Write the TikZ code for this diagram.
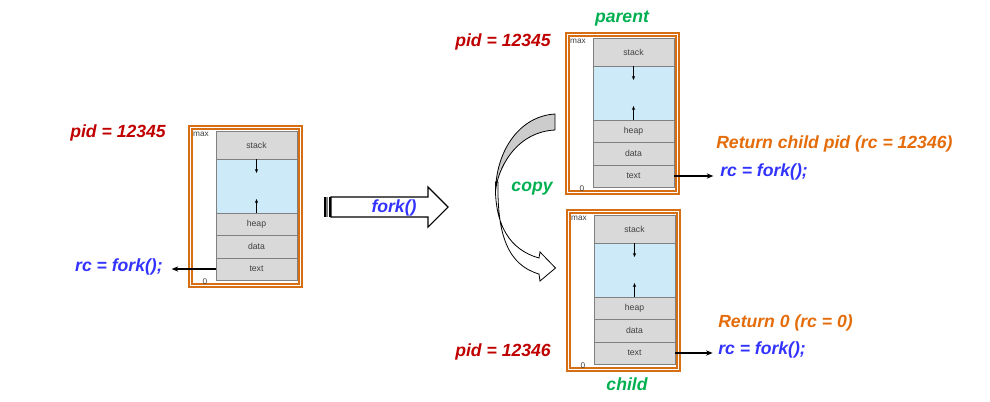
\documentclass[tikz,border=0pt]{standalone}
\usepackage{fontspec}
\setmainfont{Liberation Sans}
\usetikzlibrary{arrows.meta}
\definecolor{pidred}{RGB}{192,0,0}
\definecolor{rcblue}{RGB}{51,51,255}
\definecolor{cpgreen}{RGB}{0,176,80}
\definecolor{retorange}{RGB}{228,108,10}
\definecolor{frameor}{RGB}{214,110,20}
\definecolor{seggray}{RGB}{217,217,217}
\definecolor{segblue}{RGB}{204,234,248}
\begin{document}
\begin{tikzpicture}[x=0.75pt,y=-0.75pt,
  big/.style={font=\fontsize{13.2}{15}\selectfont\bfseries\itshape, inner sep=0pt},
  pidlbl/.style={big, text=pidred},
  rclbl/.style={big, text=rcblue},
  grlbl/.style={big, text=cpgreen},
  retlbl/.style={big, text=retorange},
  frame/.style={draw=frameor, line width=1.1pt},
  seg/.style={draw=gray, fill=seggray, line width=0.5pt, minimum width=60.75pt,
    inner sep=0pt, outer sep=0pt, anchor=north west,
    font=\fontsize{6.5}{7}\selectfont, text=black!75},
  tinylbl/.style={font=\fontsize{6.2}{7}\selectfont, text=black!75, inner sep=0pt},
  smallarrow/.style={-{Stealth[length=3pt,width=2.4pt]}, line width=0.5pt},
  link/.style={-{Stealth[length=5pt,width=4pt]}, line width=0.8pt},
  memblock/.pic={
    \draw[frame] (0,0) rectangle (113,161);
    \draw[frame] (3,3) rectangle (110,158);
    \node[seg, minimum height=21pt] (-stack) at (27,5) {stack};
    \node[seg, fill=segblue, minimum height=40.5pt, anchor=north] (-free) at (-stack.south) {};
    \node[seg, minimum height=16.5pt, anchor=north] (-heap) at (-free.south) {heap};
    \node[seg, minimum height=17.25pt, anchor=north] (-data) at (-heap.south) {data};
    \node[seg, minimum height=16.5pt, anchor=north] (-text) at (-data.south) {text};
    \node[tinylbl] (-max) at (12,8) {max};
    \node[tinylbl] (-zero) at (16,156) {0};
    \draw[smallarrow] (-free.north) -- ++(0,14);
    \draw[smallarrow] (-free.south) -- ++(0,-14);
  }]
\useasboundingbox (0,0) rectangle (990,401);

% memory blocks
\pic (L) at (189,126) {memblock};
\pic (P) at (566,33) {memblock};
\pic (C) at (567,210) {memblock};

% left labels
\node[pidlbl] (lpid) at (118,133) {pid = 12345};
\node[rclbl, anchor=east] (lrc) at (163,267) {rc = fork();};
\draw[link] (L-text.west) -- ([xshift=6.5pt]lrc.east |- L-text.west);

% fork arrow
\fill[black] (324,197) rectangle (326,217);
\fill[gray] (326,197) rectangle (328,217);
\fill[black] (328.5,197) rectangle (330.5,217);
\draw[fill=white, line width=0.8pt] (331,197) -- (428,197) -- (428,187) -- (448,207)
  -- (428,227) -- (428,217) -- (331,217) -- cycle;
\node[rclbl] (forklbl) at (394,208) {fork()};

% copy arrow
\draw[fill=white, line width=0.6pt] (495.5,182) .. controls (494,225) and (510,250) .. (539,258)
  -- (540,252) -- (555.5,268) -- (540,281) -- (539,274)
  .. controls (508,265) and (497,235) .. (498,182) -- cycle;
\draw[fill=gray!40, line width=0.6pt] (555,114) .. controls (520,116) and (496,150) .. (495.5,192)
  .. controls (497,170) and (515,132) .. (555,130) -- cycle;
\node[grlbl] (copylbl) at (532,189) {copy};

% parent side
\node[grlbl] (parentlbl) at (622,19) {parent};
\node[pidlbl] (ppid) at (503,42) {pid = 12345};
\node[retlbl, anchor=west] (pret) at (716,144) {Return child pid (rc = 12346)};
\node[rclbl, anchor=west] (prc) at (720,172) {rc = fork();};
\draw[link] (P-text.east) -- ([xshift=-5pt]prc.west |- P-text.east);

% child side
\node[retlbl, anchor=west] (cret) at (718,323) {Return 0 (rc = 0)};
\node[rclbl, anchor=west] (crc) at (718,350) {rc = fork();};
\draw[link] (C-text.east) -- ([xshift=-4pt]crc.west |- C-text.east);
\node[pidlbl] (cpid) at (503,352) {pid = 12346};
\node[grlbl] (childlbl) at (627,384) {child};
\end{tikzpicture}
\end{document}
